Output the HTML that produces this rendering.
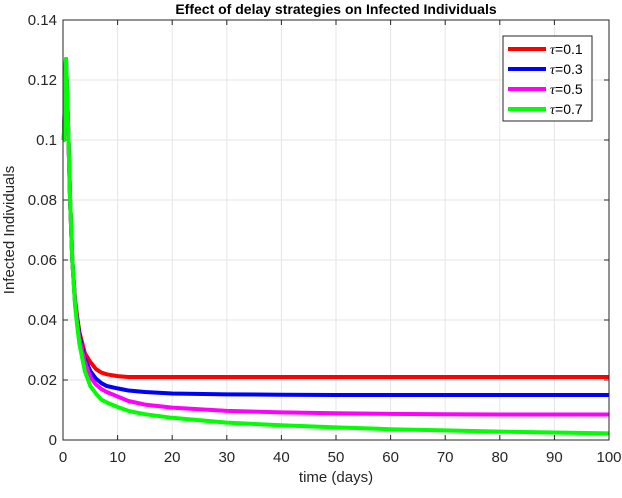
<!DOCTYPE html>
<html><head><meta charset="utf-8"><style>
body{margin:0;background:#fff}
svg text{font-family:"Liberation Sans",sans-serif}
</style></head><body>
<svg id="c" width="622" height="493" xmlns="http://www.w3.org/2000/svg"></svg>
<script>
const times=[0,0.15,0.55,1,1.3,1.7,2.2,2.6,3,4,5,6,7,8,10,12,15,20,30,40,50,60,70,80,90,100];
const tau=["0.1","0.3","0.5","0.7"];
const colors=["#ff0000","#0000ff","#ff00ff","#00ff00"];
const sRed=[0.1,0.1,0.127,0.1,0.08,0.06,0.047,0.041,0.036,0.029,0.026,0.0237,0.0225,0.0219,0.0213,0.021,0.021,0.021,0.021,0.021,0.021,0.021,0.021,0.021,0.021,0.021];
const sBlue=[0.1,0.1,0.127,0.1,0.08,0.06,0.046,0.04,0.035,0.027,0.023,0.0205,0.019,0.018,0.0172,0.0165,0.016,0.0155,0.0152,0.0151,0.015,0.015,0.015,0.015,0.015,0.015];
const sMag=[0.1,0.1,0.127,0.1,0.08,0.06,0.046,0.039,0.034,0.026,0.021,0.0185,0.017,0.016,0.0145,0.013,0.0118,0.0108,0.0097,0.0092,0.0089,0.0087,0.0086,0.0085,0.0085,0.0085];
const sGreen=[0.1,0.1,0.127,0.1,0.08,0.06,0.045,0.038,0.032,0.023,0.018,0.0155,0.0135,0.0125,0.011,0.0097,0.0086,0.0074,0.0058,0.0049,0.0042,0.0036,0.0032,0.0028,0.0025,0.0022];
const series=[sRed,sBlue,sMag,sGreen];
const xTicks=[0,10,20,30,40,50,60,70,80,90,100];
const yTicks=[0,0.02,0.04,0.06,0.08,0.1,0.12,0.14];
const yLabels=["0","0.02","0.04","0.06","0.08","0.1","0.12","0.14"];
const L=63,R=609,T=20,B=440;
const X=v=>L+(R-L)*v/100, Y=v=>B-(B-T)*v/0.14;
const svg=document.getElementById('c');
const NS="http://www.w3.org/2000/svg";
function mk(tag,attrs,parent){const e=document.createElementNS(NS,tag);for(const k in attrs)e.setAttribute(k,attrs[k]);(parent||svg).appendChild(e);return e;}
const bg=mk('rect',{x:L,y:T,width:R-L,height:B-T,fill:'#fff'});


xTicks.forEach((t,i)=>{
 const g=mk('line',{x1:X(t),x2:X(t),y1:T,y2:B,stroke:'#e6e6e6','stroke-width':1});
 
 
 mk('line',{x1:X(t),x2:X(t),y1:B,y2:B-5,stroke:'#262626'});
 mk('line',{x1:X(t),x2:X(t),y1:T,y2:T+5,stroke:'#262626'});
 const tx=mk('text',{x:X(t),y:B+22,'text-anchor':'middle','font-size':15,fill:'#262626'});
 tx.textContent=t;
 
 
});
yTicks.forEach((t,i)=>{
 const g=mk('line',{x1:L,x2:R,y1:Y(t),y2:Y(t),stroke:'#e6e6e6','stroke-width':1});
 
 
 mk('line',{x1:L,x2:L+5,y1:Y(t),y2:Y(t),stroke:'#262626'});
 mk('line',{x1:R,x2:R-5,y1:Y(t),y2:Y(t),stroke:'#262626'});
 const tx=mk('text',{x:L-6,y:Y(t)+5,'text-anchor':'end','font-size':15,fill:'#262626'});
 tx.textContent=yLabels[i];
 
 
});
series.forEach((s,k)=>{
 const d=times.map((t,i)=>(i?'L':'M')+X(t).toFixed(1)+','+Y(s[i]).toFixed(1)).join(' ');
 const p=mk('path',{d:d,fill:'none',stroke:colors[k],'stroke-width':4,'stroke-linejoin':'round'});
 
 
});
const box=mk('rect',{x:L,y:T,width:R-L,height:B-T,fill:'none',stroke:'#262626','stroke-width':1});


const lg=mk('g',{});


mk('rect',{x:503,y:36,width:89,height:85,fill:'#fff',stroke:'#262626'},lg);
tau.forEach((v,k)=>{
 const y=49+k*20;
 mk('line',{x1:508,x2:546,y1:y,y2:y,stroke:colors[k],'stroke-width':4},lg);
 const tx=mk('text',{x:550,y:y+5,'font-size':14,fill:'#000'},lg);
 tx.innerHTML='<tspan font-family="Liberation Serif" font-style="italic">τ</tspan>=' + v;
 
 
});
const ti=mk('text',{x:(L+R)/2,y:14,'text-anchor':'middle','font-size':14,'font-weight':'bold',fill:'#000'});
ti.textContent='Effect of delay strategies on Infected Individuals';


const xl=mk('text',{x:(L+R)/2,y:482,'text-anchor':'middle','font-size':15,fill:'#262626'});
xl.textContent='time (days)';


const yl=mk('text',{x:0,y:0,'text-anchor':'middle','font-size':15,fill:'#262626',transform:'translate(14,'+((T+B)/2)+') rotate(-90)'});
yl.textContent='Infected Individuals';


</script>
</body></html>
